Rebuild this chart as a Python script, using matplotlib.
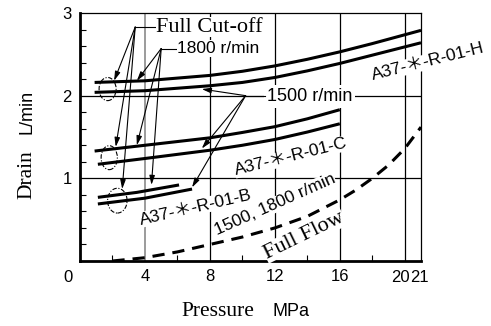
import matplotlib.pyplot as plt
from matplotlib.patches import Ellipse
from matplotlib.transforms import blended_transform_factory

# drain flow curves (pressure MPa -> drain L/min)
h1800_p = [0.9, 4, 8, 10, 12, 14, 16, 18, 21]
h1800_q = [2.16, 2.18, 2.245, 2.295, 2.36, 2.44, 2.53, 2.63, 2.79]
h1500_p = [0.9, 4, 8, 10, 12, 14, 16, 18, 21]
h1500_q = [2.04, 2.06, 2.12, 2.16, 2.22, 2.30, 2.39, 2.49, 2.64]

c1800_p = [0.9, 4, 8, 10, 12, 14, 16]
c1800_q = [1.33, 1.40, 1.49, 1.555, 1.625, 1.72, 1.83]
c1500_p = [1.1, 4, 8, 10, 12, 14, 16]
c1500_q = [1.17, 1.24, 1.34, 1.40, 1.47, 1.56, 1.66]

b1800_p = [1.1, 3.5, 6.1]
b1800_q = [0.77, 0.83, 0.92]
b1500_p = [1.1, 4, 6.9]
b1500_q = [0.69, 0.76, 0.87]

full_p = [2.0, 4, 6, 8, 10, 12, 14, 16, 17, 18, 19, 20, 21]
full_q = [0.0, 0.04, 0.11, 0.20, 0.29, 0.40, 0.54, 0.74, 0.86, 1.0, 1.16, 1.36, 1.62]

x_ticks = [4, 8, 12, 16]
y_ticks = [1, 2, 3]

serif = 'Liberation Serif'
sans = 'Liberation Sans'

fig = plt.figure(figsize=(4.91, 3.26), dpi=100)
ax = fig.add_axes([80 / 491, 1 - 261 / 326, 341 / 491, 248 / 326])
ax.set_xlim(0, 21)
ax.set_ylim(0, 3)

# grid
ax.vlines([4], 0, 3, colors='#8a8a8a', lw=1.2, zorder=2)
ax.vlines([8, 12, 16, 20], 0, 3, colors='black', lw=0.9, zorder=2)
ax.hlines([1, 2], 0, 21, colors='black', lw=0.9, zorder=2)

lw = 2.2
for p, q in [(h1800_p, h1800_q), (h1500_p, h1500_q), (c1800_p, c1800_q),
             (c1500_p, c1500_q), (b1800_p, b1800_q), (b1500_p, b1500_q)]:
    ax.plot(p, q, color='black', lw=lw, solid_capstyle='butt', zorder=3)
ax.plot(full_p, full_q, color='black', lw=2.2, dashes=(4, 2.6), zorder=3)

# spines and ticks
for s in ['bottom', 'left']:
    ax.spines[s].set_linewidth(2.0)
for s in ['top', 'right']:
    ax.spines[s].set_linewidth(0.9)
ax.set_xticks(x_ticks + [20, 21])
ax.set_xticklabels([str(t) for t in x_ticks] + ['', ''], fontfamily=sans, fontsize=12)
ax.set_yticks(y_ticks)
ax.set_yticklabels([str(t) for t in y_ticks], fontfamily=sans, fontsize=12)
ax.set_xticks([2, 6, 10, 14, 18], minor=True)
ax.set_yticks([0.2, 0.4, 0.6, 0.8, 1.2, 1.4, 1.6, 1.8, 2.2, 2.4, 2.6, 2.8], minor=True)
ax.tick_params(which='both', direction='in', length=4, width=0.8, pad=6)
ax.tick_params(axis='x', which='major', length=0)
ax.tick_params(axis='y', which='major', length=0)
xt = blended_transform_factory(ax.transData, fig.transFigure)
ax.text(20.3, 1 - 277 / 326, '20', transform=xt, fontfamily=sans, fontsize=12,
        ha='right', va='center')
ax.text(20.35, 1 - 277 / 326, '21', transform=xt, fontfamily=sans, fontsize=12,
        ha='left', va='center')
fig.text(68 / 491, 1 - 277 / 326, '0', fontfamily=sans, fontsize=12, ha='center', va='center')

# axis labels
fig.text(27 / 491, 1 - 175 / 326, 'Drain', fontfamily=serif, fontsize=15.5,
         rotation=90, ha='center', va='center')
fig.text(27 / 491, 1 - 112 / 326, 'L/min', fontfamily=sans, fontsize=13,
         rotation=90, ha='center', va='center')
fig.text(218 / 491, 1 - 312 / 326, 'Pressure', fontfamily=serif, fontsize=15.5,
         ha='center', va='center')
fig.text(291 / 491, 1 - 312 / 326, 'MPa', fontfamily=sans, fontsize=13,
         ha='center', va='center')

# dash-dot circles at cut-off points
for cx, cy, w, h in [(1.7, 2.08, 1.05, 0.28), (1.8, 1.25, 1.0, 0.29), (2.3, 0.73, 1.2, 0.30)]:
    ax.add_patch(Ellipse((cx, cy), w, h, fill=False, ec='black', lw=0.8,
                         ls=(0, (4, 1.5, 1, 1.5)), zorder=4))

arrow = dict(arrowstyle='-|>,head_length=0.55,head_width=0.16', color='black', lw=0.8,
             shrinkA=0, shrinkB=0)
bb = dict(facecolor='white', edgecolor='none', pad=0.5)

# Full Cut-off
ax.text(4.7, 2.83, 'Full Cut-off', fontfamily=serif, fontsize=16, va='center', ha='left',
        bbox=bb, zorder=5)
ax.plot([3.4, 4.6], [2.83, 2.83], color='black', lw=0.8)
for tx, ty in [(2.1, 2.18), (2.2, 1.38), (2.6, 0.87)]:
    ax.annotate('', xy=(tx, ty), xytext=(3.4, 2.83), arrowprops=arrow)

# 1800 r/min
ax.text(6.0, 2.57, '1800 r/min', fontfamily=sans, fontsize=12.5, va='center', ha='left',
        bbox=bb, zorder=5)
ax.plot([5.0, 5.9], [2.57, 2.57], color='black', lw=0.8)
for tx, ty in [(3.5, 2.18), (3.5, 1.40), (4.4, 0.92)]:
    ax.annotate('', xy=(tx, ty), xytext=(5.0, 2.57), arrowprops=arrow)

# 1500 r/min
ax.text(11.5, 1.99, '1500 r/min', fontfamily=sans, fontsize=13, va='center', ha='left',
        bbox=dict(facecolor='white', edgecolor='none', pad=2), zorder=5)
ax.plot([10.2, 11.4], [2.0, 2.0], color='black', lw=0.8, zorder=6)
for tx, ty in [(7.5, 2.08), (7.5, 1.36), (6.9, 0.89)]:
    ax.annotate('', xy=(tx, ty), xytext=(10.2, 2.0), arrowprops=arrow)

# curve labels
lab = dict(fontfamily=[sans, 'Noto Sans CJK JP'], fontsize=12.5, ha='center', va='center',
           rotation_mode='anchor', bbox=dict(facecolor='white', edgecolor='none', pad=0.3),
           zorder=5)
ax.text(21.43, 2.41, 'A37-\uff0a-R-01-H', rotation=14, **lab)
ax.text(12.99, 1.26, 'A37-\uff0a-R-01-C', rotation=14, **lab)
ax.text(7.14, 0.65, 'A37-\uff0a-R-01-B', rotation=13, **lab)
ax.text(12.0, 0.68, '1500, 1800 r/min', rotation=24, **lab)
ax.text(13.8, 0.31, 'Full Flow', rotation=26, fontfamily=serif, fontsize=16,
        ha='center', va='center', rotation_mode='anchor',
        bbox=dict(facecolor='white', edgecolor='none', pad=0.3), zorder=5)

fig.savefig('out.png', dpi=100)
